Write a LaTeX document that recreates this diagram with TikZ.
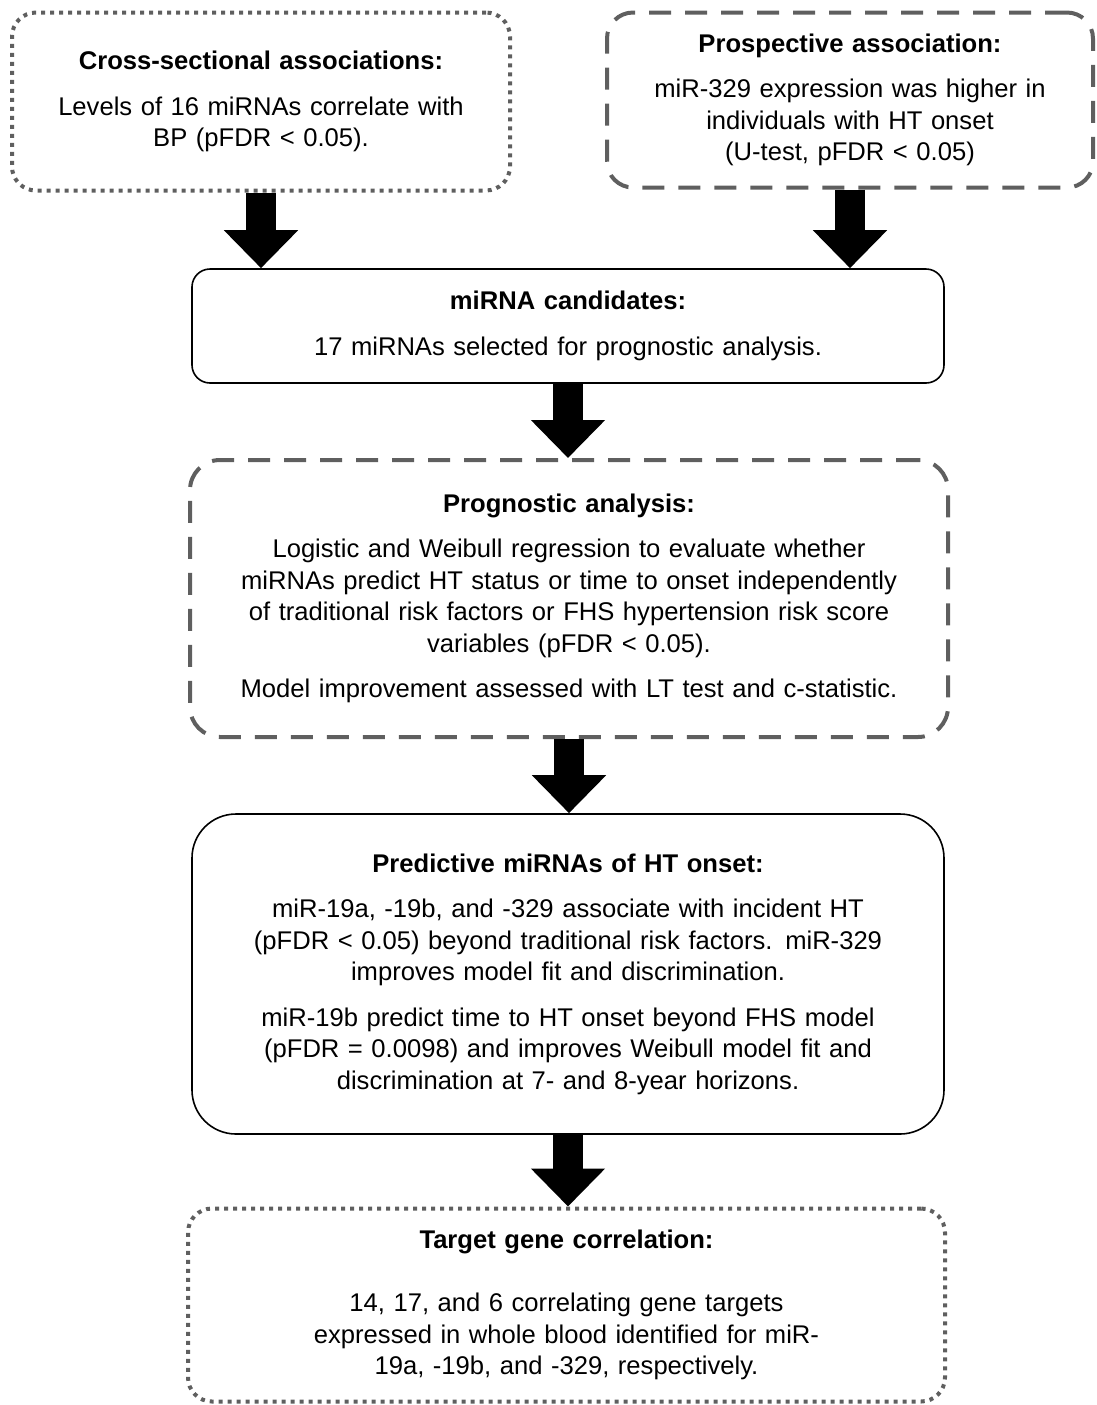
\documentclass[tikz,border=0pt]{standalone}
\usepackage{fontspec}
\setmainfont{Liberation Sans}
\usepackage{xcolor}
\usetikzlibrary{arrows.meta,positioning}
\definecolor{boxgray}{RGB}{95,95,95}

\begin{document}
\begin{tikzpicture}[x=0.5pt,y=-0.5pt,font=\fontsize{12.8}{15.75}\selectfont,
  box/.style={rounded corners=#1,align=center,inner sep=0pt},
  solidbox/.style={box=#1,draw=black,line width=0.8pt},
  dashbox/.style={box=#1,draw=boxgray,line width=2pt,dash pattern=on 11pt off 7pt},
  dotbox/.style={box=#1,draw=boxgray,line width=2pt,dash pattern=on 2pt off 2.5pt},
  bigarrow/.style={line width=15pt,-{Triangle[width=36pt,length=19pt]}}]
  \useasboundingbox (0,0) rectangle (1097,1405);

  % top row
  \node[dotbox=12pt,minimum width=249pt,minimum height=89pt,text width=235pt] (cross) at (261,101.5)
    {\textbf{Cross-sectional associations:}\\[7pt]
     Levels of 16 miRNAs correlate with\\ BP (pFDR < 0.05).};
  \node[dashbox=13pt,minimum width=243pt,minimum height=87.5pt,text width=236pt] (prosp) at (850,100)
    {\textbf{Prospective association:}\\[7pt]
     miR-329 expression was higher in\\ individuals with HT onset\\ (U-test, pFDR < 0.05)};

  % candidates
  \node[solidbox=9pt,minimum width=376pt,minimum height=57pt,text width=360pt] (cand) at (568,326)
    {\textbf{miRNA candidates:}\\[7pt]
     17 miRNAs selected for prognostic analysis.};

  % prognostic analysis
  \node[dashbox=15pt,minimum width=379pt,minimum height=138.5pt,text width=365pt] (progn) at (569,598.5)
    {\textbf{Prognostic analysis:}\\[7pt]
     Logistic and Weibull regression to evaluate whether\\
     miRNAs predict HT status or time to onset independently\\
     of traditional risk factors or FHS hypertension risk score\\
     variables (pFDR < 0.05).\\[7pt]
     Model improvement assessed with LT test and c-statistic.};

  % predictive miRNAs
  \node[solidbox=22pt,minimum width=376pt,minimum height=160pt,text width=360pt] (pred) at (568,974)
    {\textbf{Predictive miRNAs of HT onset:}\\[7pt]
     miR-19a, -19b, and -329 associate with incident HT\\
     (pFDR < 0.05) beyond traditional risk factors. miR-329\\
     improves model fit and discrimination.\\[7pt]
     miR-19b predict time to HT onset beyond FHS model\\
     (pFDR = 0.0098) and improves Weibull model fit and\\
     discrimination at 7- and 8-year horizons.};

  % target genes
  \node[dotbox=12pt,minimum width=378.5pt,minimum height=96.5pt,text width=360pt] (target) at (566.5,1305)
    {\textbf{Target gene correlation:}\\[16pt]
     14, 17, and 6 correlating gene targets\\
     expressed in whole blood identified for miR-\\
     19a, -19b, and -329, respectively.};

  \draw[bigarrow] (cross.south) -- (cross.south |- cand.north);
  \draw[bigarrow] (prosp.south) -- (prosp.south |- cand.north);
  \draw[bigarrow] (cand.south) -- (cand.south |- progn.north);
  \draw[bigarrow] (progn.south) -- (progn.south |- pred.north);
  \draw[bigarrow] (pred.south) -- (pred.south |- target.north);
\end{tikzpicture}
\end{document}
